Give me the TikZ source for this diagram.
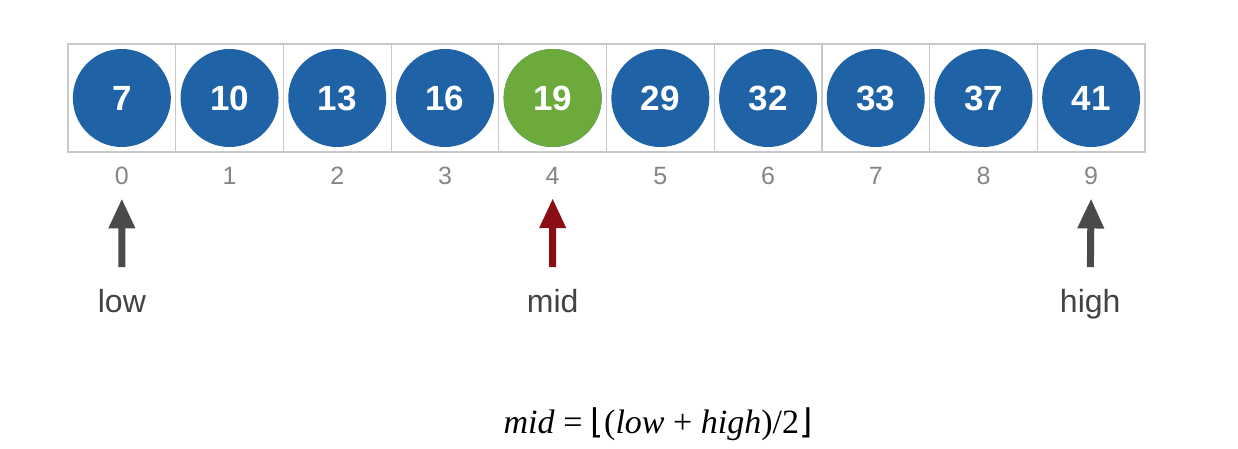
\documentclass[tikz,border=0pt]{standalone}
\usepackage{fontspec}
\setmainfont{Liberation Sans}
\newfontfamily\seriffont{Liberation Serif}
\newfontfamily\bracketfont{DejaVu Sans}
\usetikzlibrary{arrows.meta}
\definecolor{ballblue}{HTML}{1F62A5}
\definecolor{ballgreen}{HTML}{6BAA3B}
\definecolor{ptrred}{HTML}{8A0E14}
\definecolor{ptrgrey}{HTML}{4A4A4A}
\definecolor{idxgrey}{HTML}{858585}
\definecolor{cellgrey}{HTML}{C8C8C8}
\tikzset{
  cell/.style={draw=cellgrey, line width=1.2pt, minimum width=107.7pt, minimum height=108pt, inner sep=0pt},
  ball/.style={circle, fill=ballblue, minimum size=98pt, inner sep=0pt, text=white, font=\fontsize{35}{35}\selectfont\bfseries},
  idx/.style={text=idxgrey, font=\fontsize{25}{25}\selectfont, inner sep=2pt, anchor=base},
  lbl/.style={text=ptrgrey!90!black, font=\fontsize{32}{32}\selectfont, inner sep=2pt, anchor=base},
  ptr/.style={line width=7pt, -{Triangle[width=25pt,length=30pt]}, shorten <=19.5pt, shorten >=12pt},
}
\begin{document}
\begin{tikzpicture}[x=1pt,y=-1pt]
\useasboundingbox (0,0) rectangle (1238,448);
\foreach \v [count=\i from 0] in {7,10,13,16,19,29,32,33,37,41} {
  \node[cell] (c\i) at ({68+107.7*(\i+0.5)},98) {};
  \node[ball] (b\i) at (c\i) {\v};
  \node[idx] (i\i) at ({68+107.7*(\i+0.5)},184) {\i};
}
\node[ball, fill=ballgreen] (b4) at (c4) {19};
\node[lbl] (low) at (121.9,312) {low};
\node[lbl] (mid) at (552.7,312) {mid};
\node[lbl] (high) at (1090.2,312) {high};
\draw[ptr, ptrgrey] (low.north) -- (i0.south);
\draw[ptr, ptrred] (mid.north) -- (i4.south);
\draw[ptr, ptrgrey] (high.north) -- (i9.south);
\node[font=\fontsize{34}{34}\selectfont\seriffont, inner sep=0pt, anchor=base] (formula) at (658,433)
  {\textit{mid} = {\bracketfont ⌊}(\textit{low} + \textit{high})/2{\bracketfont ⌋}};
\end{tikzpicture}
\end{document}
